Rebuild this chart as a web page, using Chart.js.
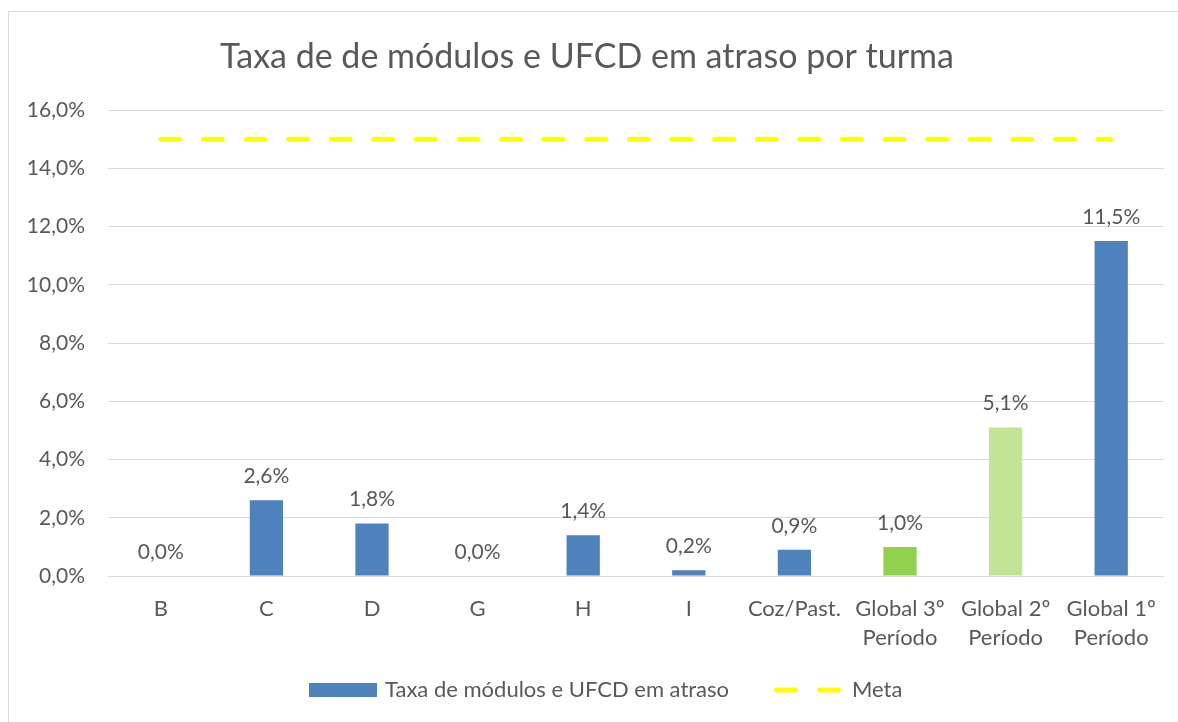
<!DOCTYPE html>
<html>
<head>
<meta charset="utf-8">
<script src="https://cdn.jsdelivr.net/npm/chart.js@4.4.1/dist/chart.umd.min.js"></script>
<style>
  html, body { margin: 0; padding: 0; background: #ffffff; }
  #wrap { position: relative; width: 1178px; height: 722px; overflow: hidden; }
  #frame { position: absolute; left: 8px; top: 11px; width: 1200px; height: 800px; border: 1px solid #d9d9d9; box-sizing: border-box; }
  canvas { position: absolute; left: 0; top: 0; }
</style>
</head>
<body>
<div id="wrap">
  <div id="frame"></div>
  <canvas id="c" width="1178" height="722"></canvas>
</div>
<script>
const titleText = "Taxa de de módulos e UFCD em atraso por turma";
const categories = ["B", "C", "D", "G", "H", "I", "Coz/Past.", ["Global 3º", "Período"], ["Global 2º", "Período"], ["Global 1º", "Período"]];
const taxaValues = [0.0, 2.6, 1.8, 0.0, 1.4, 0.2, 0.9, 1.0, 5.1, 11.5];
const metaValues = [15, 15, 15, 15, 15, 15, 15, 15, 15, 15];
const barColors = ["#4f81bd", "#4f81bd", "#4f81bd", "#4f81bd", "#4f81bd", "#4f81bd", "#4f81bd", "#92d050", "#c3e497", "#4f81bd"];
const seriesNames = ["Taxa de módulos e UFCD em atraso", "Meta"];
const yTicks = [0, 2, 4, 6, 8, 10, 12, 14, 16];

const FONT = "Lato, 'Open Sans', sans-serif";
const TXT = "#595959";

const fmt = v => v.toFixed(1).replace(".", ",") + "%";

const overlay = {
  id: "overlay",
  afterDatasetsDraw(chart) {
    const ctx = chart.ctx;
    const meta = chart.getDatasetMeta(1);
    ctx.save();
    ctx.fillStyle = TXT;
    ctx.font = "21px " + FONT;
    ctx.textAlign = "center";
    ctx.textBaseline = "middle";
    meta.data.forEach((bar, i) => {
      ctx.fillText(fmt(taxaValues[i]), bar.x, bar.y - 24);
    });
    ctx.restore();
  },
  afterDraw(chart) {
    const ctx = chart.ctx;
    ctx.save();
    // title
    ctx.fillStyle = TXT;
    ctx.font = "34px " + FONT;
    ctx.textAlign = "center";
    ctx.textBaseline = "middle";
    ctx.fillText(titleText, 587, 57);
    // legend
    ctx.fillStyle = barColors[0];
    ctx.fillRect(309, 683, 68, 14);
    ctx.fillStyle = TXT;
    ctx.font = "22px " + FONT;
    ctx.textAlign = "left";
    ctx.fillText(seriesNames[0], 385, 690);
    ctx.strokeStyle = "#ffff00";
    ctx.lineWidth = 5;
    ctx.lineCap = "round";
    ctx.setLineDash([19, 24]);
    ctx.beginPath();
    ctx.moveTo(776.5, 690);
    ctx.lineTo(838.5, 690);
    ctx.stroke();
    ctx.setLineDash([]);
    ctx.fillText(seriesNames[1], 852, 690);
    ctx.restore();
  }
};

new Chart(document.getElementById("c"), {
  data: {
    labels: categories,
    datasets: [
      {
        type: "line",
        label: seriesNames[1],
        data: metaValues,
        borderColor: "#ffff00",
        borderWidth: 5,
        borderDash: [19, 23.6],
        borderCapStyle: "round",
        pointRadius: 0,
        fill: false,
        order: 0
      },
      {
        type: "bar",
        label: seriesNames[0],
        data: taxaValues,
        backgroundColor: barColors,
        borderWidth: 0,
        categoryPercentage: 1.0,
        barPercentage: 0.315,
        order: 1
      }
    ]
  },
  options: {
    responsive: false,
    animation: false,
    devicePixelRatio: 1,
    layout: { padding: { top: 110, right: 14, bottom: 36, left: 0 } },
    plugins: {
      legend: { display: false },
      title: { display: false },
      tooltip: { enabled: false }
    },
    scales: {
      x: {
        grid: { display: false },
        border: { display: false },
        ticks: {
          color: TXT,
          font: { family: FONT, size: 22, lineHeight: "29px" },
          padding: 10,
          maxRotation: 0,
          autoSkip: false
        },
        afterFit(scale) { scale.height = 110; }
      },
      y: {
        min: 0,
        max: 16,
        afterBuildTicks(scale) { scale.ticks = yTicks.map(v => ({ value: v })); },
        grid: { color: "#d9d9d9", lineWidth: 1, drawTicks: false },
        border: { display: false },
        ticks: {
          color: TXT,
          font: { family: FONT, size: 21 },
          padding: 23,
          callback: v => fmt(v)
        },
        afterFit(scale) { scale.width = 108; }
      }
    }
  },
  plugins: [overlay]
});
</script>
</body>
</html>
